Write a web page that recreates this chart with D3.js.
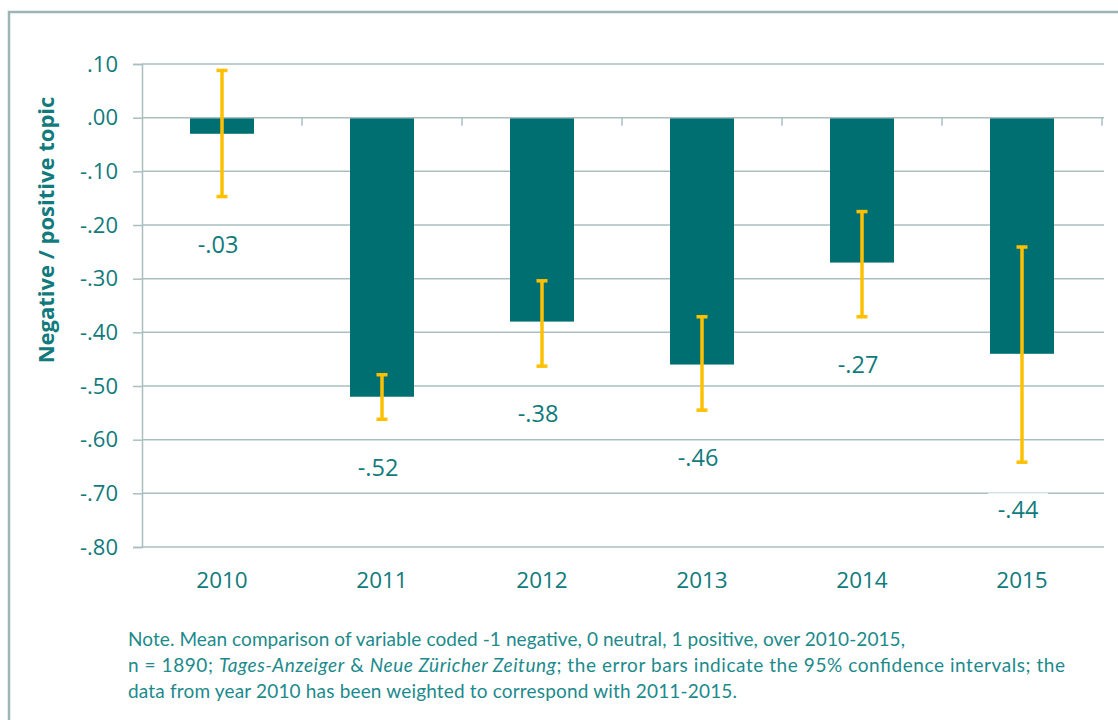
<!DOCTYPE html>
<html>
<head>
<meta charset="utf-8">
<script src="https://cdn.jsdelivr.net/npm/d3@7"></script>
<style>
  body { margin: 0; background: #fff; }
  svg text { font-family: "Open Sans", sans-serif; }
</style>
</head>
<body>
<svg id="chart"></svg>
<script>
// Data
const years = ['2010', '2011', '2012', '2013', '2014', '2015'];
const means = [-0.03, -0.52, -0.38, -0.46, -0.27, -0.44];
const ciLow = [-0.147, -0.562, -0.463, -0.545, -0.371, -0.642];
const ciHigh = [0.088, -0.479, -0.304, -0.371, -0.175, -0.241];
const meanLabels = ['-.03', '-.52', '-.38', '-.46', '-.27', '-.44'];
const yTicks = [0.1, 0, -0.1, -0.2, -0.3, -0.4, -0.5, -0.6, -0.7, -0.8];
const yTickLabels = ['.10', '.00', '-.10', '-.20', '-.30', '-.40', '-.50', '-.60', '-.70', '-.80'];
const noteLines = [
  [{ t: 'Note. Mean comparison of variable coded -1 negative, 0 neutral, 1 positive, over 2010-2015,' }],
  [{ t: 'n = 1890; ' }, { t: 'Tages-Anzeiger', i: true }, { t: ' & ' }, { t: 'Neue Züricher Zeitung', i: true },
   { t: '; the error bars indicate the 95% confidence intervals; the' }],
  [{ t: 'data from year 2010 has been weighted to correspond with 2011-2015.' }]
];
const noteWidths = [777, 937, 609];

const width = 1118;
const height = 720;
const teal = '#006f71';
const textTeal = '#117a7c';
const gridColor = '#a9bfbf';
const errColor = '#ffc000';

const svg = d3.select('#chart')
  .attr('width', width)
  .attr('height', height);

// Outer frame
svg.append('rect')
  .attr('x', 9).attr('y', 12)
  .attr('width', 1130).attr('height', 730)
  .attr('fill', 'none')
  .attr('stroke', '#9db5b5')
  .attr('stroke-width', 2.5);

// Scales
const x = d3.scaleBand()
  .domain(years)
  .range([142, 1102])
  .paddingInner(0.6)
  .paddingOuter(0.3);

const y = d3.scaleLinear()
  .domain([-0.8, 0.1])
  .range([547, 64]);

// Y axis
const yAxis = svg.append('g')
  .attr('transform', 'translate(142,0)')
  .call(d3.axisLeft(y)
    .tickValues(yTicks)
    .tickFormat((d, i) => yTickLabels[i])
    .tickSize(9)
    .tickPadding(15));
yAxis.select('.domain').attr('stroke', gridColor).attr('stroke-width', 1.5);
yAxis.selectAll('.tick line').attr('stroke', gridColor).attr('stroke-width', 1.5);
yAxis.selectAll('.tick text')
  .attr('fill', textTeal)
  .style('font-size', '22px');

// Gridlines
svg.append('g')
  .selectAll('line')
  .data(yTicks.filter(d => d !== 0))
  .enter()
  .append('line')
  .attr('x1', 142).attr('x2', 1104)
  .attr('y1', d => y(d)).attr('y2', d => y(d))
  .attr('stroke', gridColor)
  .attr('stroke-width', 1.5);

// Bars
svg.append('g')
  .selectAll('rect')
  .data(years)
  .enter()
  .append('rect')
  .attr('x', d => x(d))
  .attr('width', x.bandwidth())
  .attr('y', y(0))
  .attr('height', (d, i) => y(means[i]) - y(0))
  .attr('fill', teal);

// Category axis at zero
const boundaries = years.map(d => x(d) + x.bandwidth() / 2 + x.step() / 2);
const xAxisG = svg.append('g');
xAxisG.append('line')
  .attr('x1', 142).attr('x2', 1104)
  .attr('y1', y(0)).attr('y2', y(0))
  .attr('stroke', gridColor)
  .attr('stroke-width', 1.5);
xAxisG.selectAll('line.tk')
  .data(boundaries)
  .enter()
  .append('line')
  .attr('class', 'tk')
  .attr('x1', d => d).attr('x2', d => d)
  .attr('y1', y(0)).attr('y2', y(0) + 8)
  .attr('stroke', gridColor)
  .attr('stroke-width', 1.5);

// Category labels
svg.append('g')
  .selectAll('text')
  .data(years)
  .enter()
  .append('text')
  .attr('x', d => x(d) + x.bandwidth() / 2)
  .attr('y', 588)
  .attr('text-anchor', 'middle')
  .attr('fill', textTeal)
  .style('font-size', '22.5px')
  .text(d => d);

// Error bars
const err = svg.append('g')
  .selectAll('g')
  .data(years)
  .enter()
  .append('g')
  .attr('transform', d => `translate(${x(d) + x.bandwidth() / 2},0)`);

err.append('line')
  .attr('y1', (d, i) => y(ciHigh[i]))
  .attr('y2', (d, i) => y(ciLow[i]))
  .attr('stroke', errColor)
  .attr('stroke-width', 3.5);
err.append('line')
  .attr('x1', -5.5).attr('x2', 5.5)
  .attr('y1', (d, i) => y(ciHigh[i])).attr('y2', (d, i) => y(ciHigh[i]))
  .attr('stroke', errColor)
  .attr('stroke-width', 3.5);
err.append('line')
  .attr('x1', -5.5).attr('x2', 5.5)
  .attr('y1', (d, i) => y(ciLow[i])).attr('y2', (d, i) => y(ciLow[i]))
  .attr('stroke', errColor)
  .attr('stroke-width', 3.5);

// Value labels with white backing
const lab = svg.append('g')
  .selectAll('g')
  .data(years)
  .enter()
  .append('g')
  .attr('transform', (d, i) => `translate(${x(d) + x.bandwidth() / 2 - 4},${y(ciLow[i]) + 48})`);

lab.append('rect')
  .attr('x', -30).attr('y', -17)
  .attr('width', 60).attr('height', 34)
  .attr('fill', '#fff');

lab.append('text')
  .attr('text-anchor', 'middle')
  .attr('dy', '0.35em')
  .attr('fill', textTeal)
  .style('font-size', '23.5px')
  .text((d, i) => meanLabels[i]);

// Y axis title
svg.append('text')
  .attr('transform', 'translate(54,230) rotate(-90)')
  .attr('text-anchor', 'middle')
  .attr('fill', textTeal)
  .style('font-size', '22px')
  .style('font-weight', 'bold')
  .text('Negative / positive topic');

// Note
noteLines.forEach((line, li) => {
  const t = svg.append('text')
    .attr('x', 128)
    .attr('y', 646 + li * 26)
    .attr('fill', '#1c8a8c')
    .attr('textLength', noteWidths[li])
    .attr('lengthAdjust', 'spacing')
    .style('font-family', 'Lato, sans-serif')
    .style('font-size', '19px');
  line.forEach(seg => {
    t.append('tspan')
      .style('font-style', seg.i ? 'italic' : 'normal')
      .attr('xml:space', 'preserve')
      .text(seg.t);
  });
});
</script>
</body>
</html>
